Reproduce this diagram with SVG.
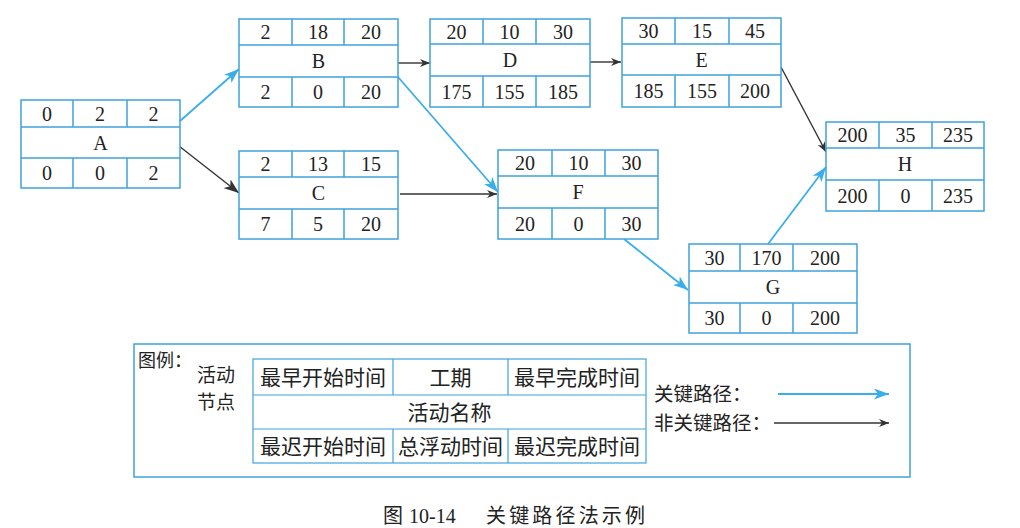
<svg xmlns="http://www.w3.org/2000/svg" width="1020" height="528" viewBox="0 0 1020 528">
<style>
.box{fill:#fff;stroke:#3fa3dc;stroke-width:1.5}
.ln{stroke:#3fa3dc;stroke-width:1.5;fill:none}
.n{font-family:"Liberation Serif","Times New Roman",serif;font-size:20px;fill:#222;text-anchor:middle}
.cj{font-family:"Noto Sans CJK SC","Noto Sans CJK JP",sans-serif;fill:#222}
.crit{stroke:#3aaeea;stroke-width:1.8;fill:none}
.norm{stroke:#333;stroke-width:1.4;fill:none}
</style>
<defs>
<marker id="ab" markerUnits="userSpaceOnUse" markerWidth="15" markerHeight="11" refX="15" refY="5.5" orient="auto"><path d="M0,0 L15,5.5 L0,11 L4,5.5 z" fill="#3aaeea"/></marker>
<marker id="ak" markerUnits="userSpaceOnUse" markerWidth="15" markerHeight="11" refX="15" refY="5.5" orient="auto"><path d="M0,0 L15,5.5 L0,11 L4,5.5 z" fill="#333"/></marker>
<marker id="aks" markerUnits="userSpaceOnUse" markerWidth="10" markerHeight="8" refX="10" refY="4" orient="auto"><path d="M0,0 L10,4 L0,8 L3,4 z" fill="#333"/></marker>
</defs>
<rect width="1020" height="528" fill="#fff"/>

<g id="connectors">
<line class="crit" x1="180" y1="121" x2="239" y2="69" marker-end="url(#ab)"/>
<line class="norm" x1="179" y1="146" x2="239" y2="193" marker-end="url(#ak)"/>
<line class="norm" x1="398" y1="63" x2="430" y2="63" marker-end="url(#aks)"/>
<line class="crit" x1="398" y1="77" x2="498" y2="192" marker-end="url(#ab)"/>
<line class="norm" x1="400" y1="194" x2="497" y2="194" marker-end="url(#aks)"/>
<line class="norm" x1="590" y1="62" x2="621" y2="62" marker-end="url(#aks)"/>
<line class="norm" x1="781" y1="67" x2="826" y2="152" marker-end="url(#aks)"/>
<line class="crit" x1="624" y1="239" x2="688" y2="290" marker-end="url(#ab)"/>
<line class="crit" x1="768" y1="244" x2="826" y2="167" marker-end="url(#ab)"/>
</g>

<g id="node-A">
<rect class="box" x="21" y="100" width="159" height="88"/>
<path class="ln" d="M21,127H180M21,158H180M73,100V127M127,100V127M73,158V188M127,158V188"/>
<text class="n" x="47" y="120.5">0</text><text class="n" x="100" y="120.5">2</text><text class="n" x="153.5" y="120.5">2</text>
<text class="n" x="100.5" y="149.5">A</text>
<text class="n" x="47" y="180">0</text><text class="n" x="100" y="180">0</text><text class="n" x="153.5" y="180">2</text>
</g>

<g id="node-B">
<rect class="box" x="239" y="19" width="159" height="88"/>
<path class="ln" d="M239,45H398M239,77H398M292,19V45M344,19V45M292,77V107M344,77V107"/>
<text class="n" x="265.5" y="39">2</text><text class="n" x="318" y="39">18</text><text class="n" x="371" y="39">20</text>
<text class="n" x="318.5" y="68">B</text>
<text class="n" x="265.5" y="99">2</text><text class="n" x="318" y="99">0</text><text class="n" x="371" y="99">20</text>
</g>

<g id="node-C">
<rect class="box" x="239" y="151" width="159" height="88"/>
<path class="ln" d="M239,177H398M239,209H398M292,151V177M344,151V177M292,209V239M344,209V239"/>
<text class="n" x="265.5" y="171">2</text><text class="n" x="318" y="171">13</text><text class="n" x="371" y="171">15</text>
<text class="n" x="318.5" y="200">C</text>
<text class="n" x="265.5" y="231">7</text><text class="n" x="318" y="231">5</text><text class="n" x="371" y="231">20</text>
</g>

<g id="node-D">
<rect class="box" x="430" y="19" width="160" height="88"/>
<path class="ln" d="M430,44H590M430,76H590M483,19V44M536,19V44M483,76V107M536,76V107"/>
<text class="n" x="456.5" y="38.5">20</text><text class="n" x="509.5" y="38.5">10</text><text class="n" x="563" y="38.5">30</text>
<text class="n" x="510" y="67">D</text>
<text class="n" x="456.5" y="98.5">175</text><text class="n" x="509.5" y="98.5">155</text><text class="n" x="563" y="98.5">185</text>
</g>

<g id="node-E">
<rect class="box" x="622" y="18" width="159" height="89"/>
<path class="ln" d="M622,44H781M622,75H781M675,18V44M729,18V44M675,75V107M729,75V107"/>
<text class="n" x="648.5" y="38">30</text><text class="n" x="702" y="38">15</text><text class="n" x="755" y="38">45</text>
<text class="n" x="701.5" y="66.5">E</text>
<text class="n" x="648.5" y="98">185</text><text class="n" x="702" y="98">155</text><text class="n" x="755" y="98">200</text>
</g>

<g id="node-F">
<rect class="box" x="498" y="150" width="160" height="89"/>
<path class="ln" d="M498,176H658M498,208H658M552,150V176M605,150V176M552,208V239M605,208V239"/>
<text class="n" x="525" y="170">20</text><text class="n" x="578.5" y="170">10</text><text class="n" x="631.5" y="170">30</text>
<text class="n" x="578" y="199">F</text>
<text class="n" x="525" y="230.5">20</text><text class="n" x="578.5" y="230.5">0</text><text class="n" x="631.5" y="230.5">30</text>
</g>

<g id="node-G">
<rect class="box" x="689" y="244" width="168" height="89"/>
<path class="ln" d="M689,271H857M689,303H857M740,244V271M793,244V271M740,303V333M793,303V333"/>
<text class="n" x="714.5" y="264.5">30</text><text class="n" x="766.5" y="264.5">170</text><text class="n" x="825" y="264.5">200</text>
<text class="n" x="773" y="294">G</text>
<text class="n" x="714.5" y="325">30</text><text class="n" x="766.5" y="325">0</text><text class="n" x="825" y="325">200</text>
</g>

<g id="node-H">
<rect class="box" x="826" y="122" width="158" height="89"/>
<path class="ln" d="M826,148H984M826,180H984M879,122V148M932,122V148M879,180V211M932,180V211"/>
<text class="n" x="852.5" y="142">200</text><text class="n" x="905.5" y="142">35</text><text class="n" x="958" y="142">235</text>
<text class="n" x="905" y="171">H</text>
<text class="n" x="852.5" y="202.5">200</text><text class="n" x="905.5" y="202.5">0</text><text class="n" x="958" y="202.5">235</text>
</g>

<g id="legend">
<rect x="134" y="344" width="776" height="133" fill="none" stroke="#3fa3dc" stroke-width="1.5"/>
<text class="cj" x="138" y="367" font-size="18">图例：</text>
<text class="cj" x="197" y="382" font-size="19">活动</text>
<text class="cj" x="197" y="409" font-size="19">节点</text>
<rect x="253" y="359" width="393" height="104" fill="none" stroke="#3fa3dc" stroke-width="1.2"/>
<path d="M253,395H646M253,429H646M393,359V395M508,359V395M393,429V463M508,429V463" fill="none" stroke="#3fa3dc" stroke-width="1.2"/>
<g class="cj" font-size="21" text-anchor="middle">
<text x="323" y="384.5">最早开始时间</text>
<text x="450.5" y="384.5">工期</text>
<text x="577" y="384.5">最早完成时间</text>
<text x="449.5" y="419.5">活动名称</text>
<text x="323" y="453.5">最迟开始时间</text>
<text x="450.5" y="453.5">总浮动时间</text>
<text x="577" y="453.5">最迟完成时间</text>
</g>
<text class="cj" x="654" y="401" font-size="19.5">关键路径：</text>
<text class="cj" x="654" y="430" font-size="19.5">非关键路径：</text>
<line class="crit" x1="778" y1="394" x2="889" y2="394" marker-end="url(#ab)"/>
<line class="norm" x1="774" y1="423" x2="889" y2="423" marker-end="url(#aks)"/>
</g>

<g id="caption">
<text class="cj" x="383" y="523" font-size="20">图</text>
<text x="409" y="523" font-family="Liberation Serif,serif" font-size="20" fill="#222">10-14</text>
<text class="cj" x="486" y="523" font-size="20" textLength="159">关键路径法示例</text>
</g>
</svg>
